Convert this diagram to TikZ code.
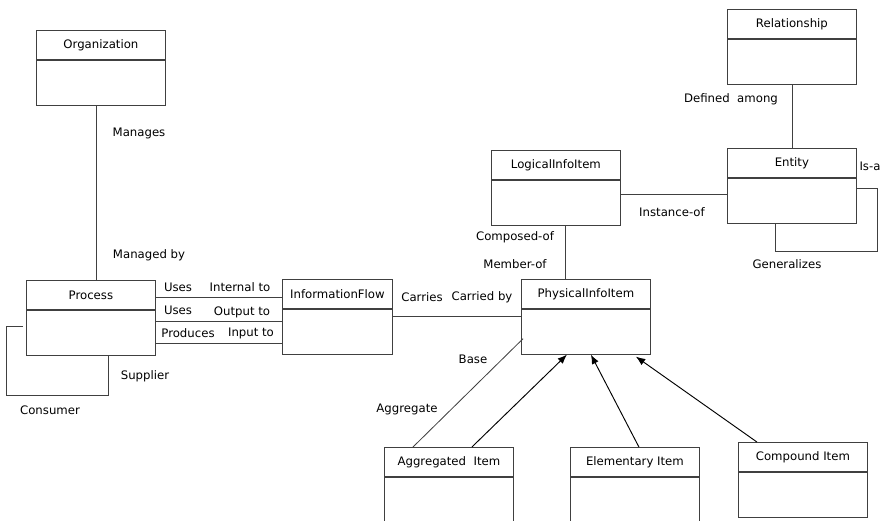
\documentclass[tikz,border=0pt]{standalone}
\usepackage{fontspec}
\setmainfont{DejaVu Sans}
\usetikzlibrary{calc,arrows.meta}

\tikzset{
  classhead/.style={draw=black!75, line width=0.7pt, minimum width=3.87cm,
    minimum height=0.87cm, inner sep=0pt, font=\fontsize{10}{12}\selectfont},
  classbody/.style={draw=black!75, line width=0.7pt, minimum width=3.87cm,
    minimum height=1.35cm, inner sep=0pt},
  lbl/.style={font=\fontsize{10}{12}\selectfont, inner sep=1pt},
  assoc/.style={draw=black!75, line width=0.7pt},
  gen/.style={draw=black, line width=0.8pt, -{Latex[length=2.8mm,width=2.2mm]}}
}

% a class box: name, top left corner, title
\newcommand{\umlclass}[4][3.87cm]{%
  \node[classhead, minimum width=#1, anchor=north west] (#2) at (#3) {#4};
  \node[classbody, minimum width=#1, anchor=north] (#2-b) at (#2.south) {};
}

\begin{document}
\begin{tikzpicture}[x=0.03cm,y=-0.03cm]

  \useasboundingbox (0,0) rectangle (887,520);
  \clip (0,0) rectangle (887,520);

  % classes
  \umlclass{org}{36,30}{Organization}
  \umlclass{rel}{727,9}{Relationship}
  \umlclass{ent}{727,148}{Entity}
  \umlclass{logi}{491,150}{LogicalInfoItem}
  \umlclass{proc}{26,280}{Process}
  \umlclass[3.3cm]{flow}{282,279}{InformationFlow}
  \umlclass{phys}{521,279}{PhysicalInfoItem}
  \umlclass{aggr}{384,447}{Aggregated~ Item}
  \umlclass{elem}{570,447}{Elementary Item}
  \umlclass{comp}{738,442}{Compound Item}

  % associations
  \draw[assoc] ($(org-b.south)+(-5,0)$) coordinate (op) -- (op |- proc.north);
  \draw[assoc] (rel-b.south) -- (ent.north);
  \draw[assoc] ($(logi-b.east)+(0,-8)$) coordinate (le) -- (le -| ent-b.west);
  \draw[assoc] ($(logi-b.south)+(9,0)$) coordinate (lp) -- (lp |- phys.north);
  \foreach \yy in {297,321,343}
    \draw[assoc] (proc.east |- 0,\yy) -- (flow.west |- 0,\yy);
  \draw[assoc] (flow-b.east |- 0,316) -- (phys-b.west |- 0,316);
  \draw[assoc] ($(phys-b.west)+(2,7)$) -- ($(aggr.north west)+(29,0)$);

  % self loops
  \draw[assoc] ($(ent-b.east)+(0,-12)$) -| ($(ent-b.south)+(85,28)$)
    -| ($(ent-b.south)+(-17,0)$);
  \draw[assoc] ($(proc-b.west)+(-3,-6)$) -| ($(proc-b.south)+(-85,40)$)
    -| ($(proc-b.south)+(17,0)$);

  % generalizations
  \draw[gen] ($(aggr.north)+(23,0)$) -- ($(phys-b.south)+(-19,0)$);
  \draw[gen] ($(elem.north)+(4,0)$) -- ($(phys-b.south)+(5,0)$);
  \draw[gen] ($(comp.north)+(-46,0)$) -- ($(phys-b.south)+(50,2)$);

  % role names
  \node[lbl] (manages) at (139,133) {Manages};
  \node[lbl] (managedby) at (149,255) {Managed by};
  \node[lbl] (definedamong) at (731,99) {Defined~ among};
  \node[lbl] (isa) at (870,166) {Is-a};
  \node[lbl] (instanceof) at (672,212) {Instance-of};
  \node[lbl] (generalizes) at (787,264) {Generalizes};
  \node[lbl] (composedof) at (515,237) {Composed-of};
  \node[lbl] (memberof) at (515,264) {Member-of};
  \node[lbl] (uses1) at (178,287) {Uses};
  \node[lbl] (internalto) at (240,287) {Internal to};
  \node[lbl] (uses2) at (178,310) {Uses};
  \node[lbl] (outputto) at (242,312) {Output to};
  \node[lbl] (produces) at (188,333) {Produces};
  \node[lbl] (inputto) at (251,333) {Input to};
  \node[lbl] (supplier) at (145,376) {Supplier};
  \node[lbl] (consumer) at (50,410) {Consumer};
  \node[lbl] (carries) at (422,297) {Carries};
  \node[lbl] (carriedby) at (482,297) {Carried by};
  \node[lbl] (base) at (473,359) {Base};
  \node[lbl] (aggregate) at (407,409) {Aggregate};

\end{tikzpicture}
\end{document}
